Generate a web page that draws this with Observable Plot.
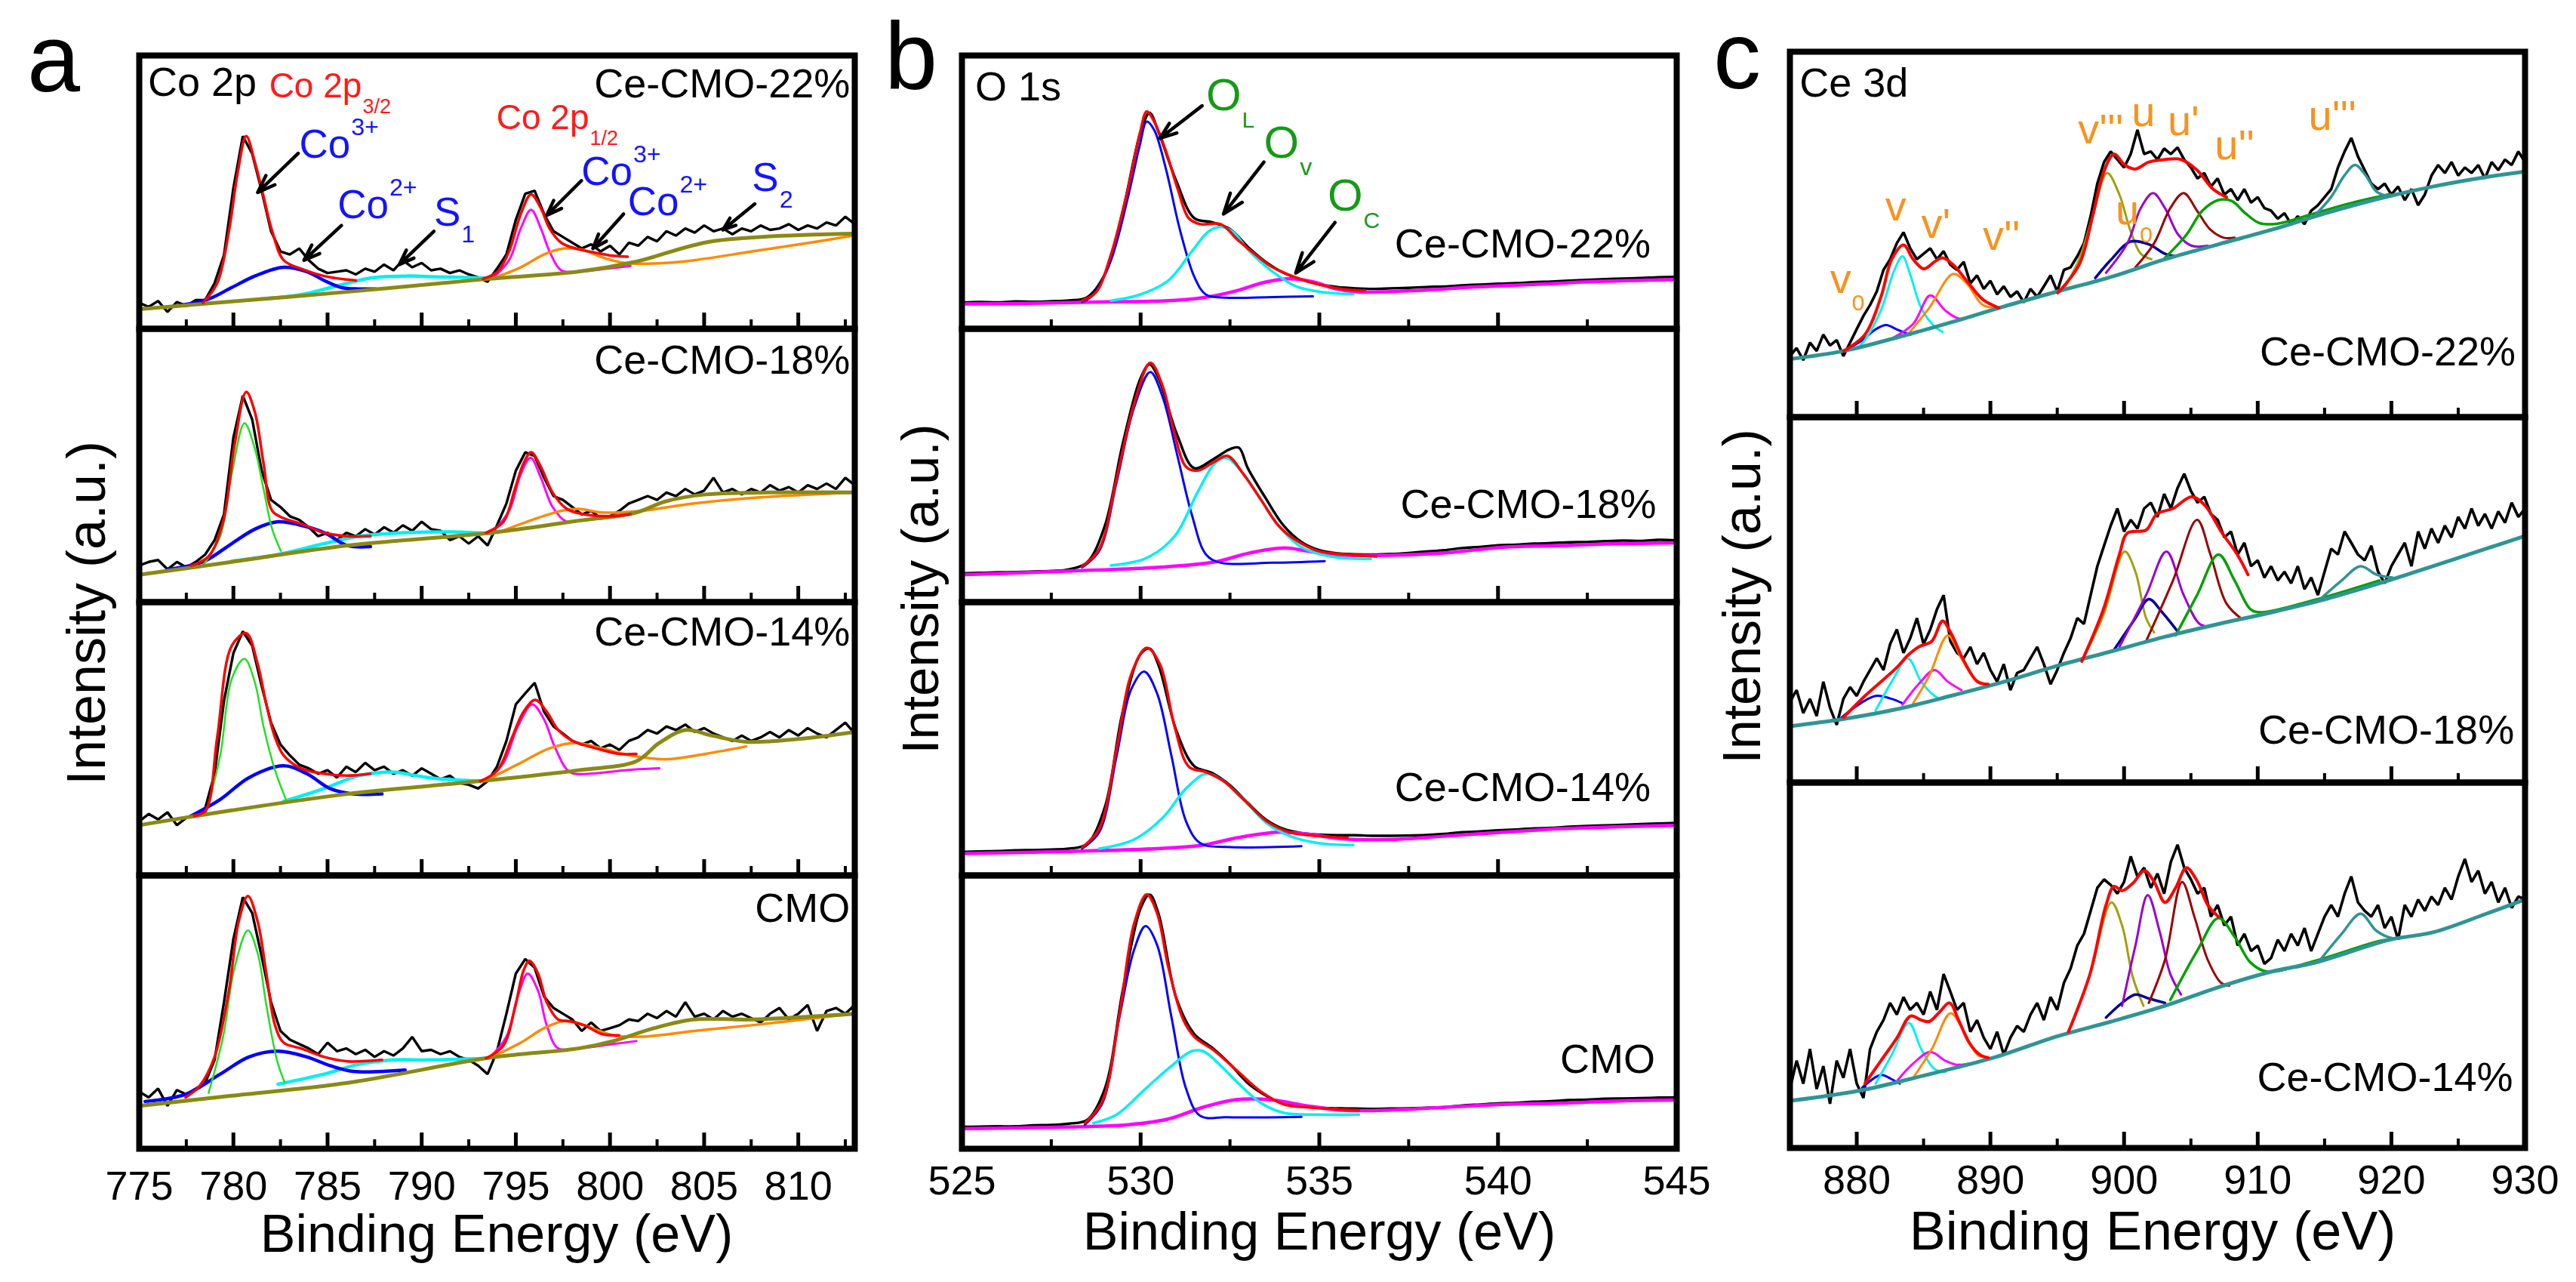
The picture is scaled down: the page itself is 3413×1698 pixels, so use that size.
<!DOCTYPE html>
<html><head><meta charset="utf-8">
<script src="https://cdn.jsdelivr.net/npm/d3@7"></script>
<script src="https://cdn.jsdelivr.net/npm/@observablehq/plot@0.6"></script>
<style>
html,body{margin:0;padding:0;background:#fff;width:3413px;height:1698px;overflow:hidden;}
#root{position:relative;width:3413px;height:1698px;overflow:hidden;background:#fff;}
</style></head><body><div id="root"></div>
<script>
// ---------- energy grids & ticks ----------
const eA = d3.range(775, 813.001, 0.5);
const eC = d3.range(875, 930.001, 0.5);
const ticksA_major = [780,785,790,795,800,805,810];
const ticksA_minor = [777.5,782.5,787.5,792.5,797.5,802.5,807.5,812.5];
const ticksA_labels = [775,780,785,790,795,800,805,810];
const ticksB_major = [530,535,540];
const ticksB_minor = [527.5,532.5,537.5,542.5];
const ticksB_labels = [525,530,535,540,545];
const ticksC_major = [880,890,900,910,920];
const ticksC_minor = [885,895,905,915,925];
const ticksC_labels = [880,890,900,910,920,930];
const samplesA = ["Ce-CMO-22%","Ce-CMO-18%","Ce-CMO-14%","CMO"];
const samplesC = ["Ce-CMO-22%","Ce-CMO-18%","Ce-CMO-14%"];

// ---------- panel a : Co 2p ----------
const a22_exp = [9.5,8.0,10.2,6.2,9.8,8.4,10.5,10.5,16.7,27.0,
51.5,70.5,64.0,50.5,35.7,28.3,27.2,29.4,25.1,22.0,
20.4,20.9,21.4,19.9,22.0,20.9,23.5,21.4,25.1,22.5,
24.1,21.4,22.0,20.4,21.4,19.9,18.8,17.2,22.0,27.2,
39.9,49.4,50.5,42.0,35.7,33.6,31.5,29.4,30.9,28.3,
30.4,27.2,31.5,30.4,33.6,32.0,35.7,34.1,36.7,35.2,
37.8,35.7,36.7,34.6,36.7,35.7,37.8,36.2,36.7,38.3,
36.2,37.8,36.7,38.9,37.8,41.0,38.3];
const a22_base = [[775,7.2],[778.7,9.3],[786.0,13.5],[793.4,18.2],[798.3,20.9],[801.4,24.6],[805.4,32.0],[813,34.8]];
const a22_fit1 = [[778.38,9.5],[779.14,16.7],[779.76,35.7],[780.22,56.8],[780.68,70.5],[781.14,61.0],[781.6,48.4],[782.06,35.7],[782.67,25.1],[783.59,22.0],[784.82,19.3],[786.05,18.0],[786.51,17.7]];
const a22_fit2 = [[793.26,18.3],[794.03,20.9],[794.64,28.3],[795.26,42.0],[795.81,49.2],[796.33,44.1],[796.79,36.7],[797.41,31.5],[798.33,29.1],[799.25,27.8],[800.17,26.7],[800.94,26.4]];
const a22_co2 = [[776.84,8.2],[778.68,10.9],[779.91,15.1],[781.14,19.3],[782.67,22.5],[783.9,20.9],[784.82,17.7],[785.74,15.1],[786.66,14.6],[787.58,14.6]];
const a22_s1 = [[781.45,10.9],[783.59,12.5],[785.44,15.6],[787.28,18.6],[789.12,19.3],[790.96,19.0],[793.42,18.6]];
const a22_co3b = [[793.72,18.3],[794.64,25.1],[795.26,36.7],[795.81,43.6],[796.33,36.7],[796.79,28.3],[797.41,21.4],[798.33,20.9],[799.86,22.0],[801.09,23.0]];
const a22_co2b = [[793.72,18.3],[795.26,22.5],[796.49,27.2],[797.56,29.4],[798.63,28.8],[799.56,26.2],[800.78,24.1],[802.32,23.9],[804.47,25.1],[807.54,28.3],[810.6,31.5],[812.91,34.1]];

const a18_exp = [13.4,14.7,15.4,12.0,14.7,12.7,14.7,17.4,22.7,32.1,
60.2,75.5,66.8,48.1,37.4,34.8,31.4,30.1,27.4,24.1,
25.4,22.7,25.4,24.1,26.7,24.7,27.4,25.4,28.1,26.1,
29.4,26.7,26.1,22.7,24.1,21.4,24.1,20.7,28.1,36.1,
48.1,54.8,53.5,45.5,38.8,37.4,34.8,32.1,33.4,30.7,
31.4,33.4,36.1,37.4,38.8,37.4,40.1,38.8,41.4,39.4,
40.8,45.5,40.1,41.4,39.4,41.4,40.1,42.8,40.8,42.1,
40.1,42.8,41.4,43.4,41.4,45.5,42.8];
const a18_base = [[775,10.0],[779.91,14.7],[786.05,20.7],[793.72,25.4],[798.33,29.8],[801.4,32.8],[802.93,36.8],[805.08,39.4],[813,40.1]];
const a18_fit1 = [[777.76,13.4],[778.68,16.7],[779.45,29.4],[780.06,57.5],[780.68,76.9],[781.14,69.5],[781.6,50.8],[782.06,33.4],[782.67,30.7],[783.59,28.7],[784.82,25.4],[786.05,24.1],[787.28,24.1]];
const a18_co3 = [[778.38,13.4],[779.3,24.1],[779.91,46.8],[780.59,65.5],[781.14,56.1],[781.6,41.4],[782.06,26.7],[782.52,18.7]];
const a18_co2 = [[776.53,12.0],[778.38,14.7],[779.91,21.4],[781.14,26.7],[782.37,29.4],[783.59,28.1],[784.82,25.4],[786.05,20.7],[787.28,20.3]];
const a18_s1 = [[779.91,15.0],[782.37,17.4],[784.82,21.4],[786.66,24.1],[789.12,25.4],[791.57,25.7],[793.72,25.1]];
const a18_fit2 = [[793.42,25.4],[794.34,29.4],[794.95,41.4],[795.41,50.8],[795.81,54.8],[796.33,49.5],[796.95,40.1],[797.71,34.1],[798.63,32.1],[799.86,31.4],[801.09,32.1]];
const a18_co3b = [[793.72,25.4],[794.64,33.4],[795.26,46.8],[795.78,52.8],[796.33,45.5],[796.95,34.8],[797.71,29.4],[798.63,30.1],[799.86,30.7],[801.09,32.1]];
const a18_co2b = [[794.03,25.4],[795.87,30.1],[797.41,33.4],[798.33,34.1],[799.56,32.8],[801.4,33.2],[804.47,36.1],[807.54,38.1],[812.91,40.1]];

const a14_exp = [19.8,22.5,20.5,23.1,18.4,21.1,22.5,24.5,37.2,63.9,
81.3,89.3,84.0,69.3,55.9,47.9,43.9,40.5,39.2,37.2,
38.5,35.8,39.8,37.8,41.2,38.5,39.8,37.2,38.5,36.5,
39.2,37.2,35.2,36.5,33.8,33.2,31.8,34.5,39.8,49.2,
62.6,66.6,70.5,59.9,54.5,51.9,49.2,47.9,49.2,46.5,
47.9,45.9,49.2,50.5,53.2,51.9,54.5,53.2,55.2,52.5,
53.9,51.9,50.5,49.2,51.2,49.2,50.5,52.5,50.5,53.2,
51.2,53.9,51.9,50.5,53.2,55.9,51.9];
const a14_base = [[775,18.4],[779.91,23.8],[786.05,29.8],[793.11,34.5],[798.33,38.5],[801.4,41.8],[802.62,48.5],[804.0,53.2],[805.39,51.2],[807.23,48.9],[809.99,49.9],[813,52.5]];
const a14_fit1 = [[777.92,21.8],[778.53,23.8],[779.14,50.5],[779.91,84.0],[780.68,88.6],[781.29,77.3],[781.75,62.6],[782.21,50.5],[782.67,43.9],[783.59,39.2],[784.82,37.2],[786.05,36.5],[787.28,37.2]];
const a14_co3 = [[778.53,22.5],[779.3,43.9],[779.91,71.9],[780.59,79.3],[781.14,70.6],[781.6,54.5],[782.21,38.5],[782.83,27.1]];
const a14_co2 = [[777.76,21.8],[779.3,27.8],[780.83,35.8],[782.67,40.1],[783.9,37.2],[785.13,31.8],[786.36,29.8],[787.89,29.8]];
const a14_s1 = [[782.67,27.1],[784.82,31.8],[786.66,36.5],[788.5,37.8],[790.35,35.8],[793.11,34.5]];
const a14_fit2 = [[793.11,34.5],[794.03,38.5],[794.8,50.5],[795.41,59.9],[796.03,64.2],[796.64,59.9],[797.25,53.2],[798.02,49.2],[799.25,46.5],[800.48,44.5],[801.4,44.5]];
const a14_co3b = [[793.42,34.8],[794.34,41.2],[795.1,54.5],[795.87,62.6],[796.49,57.2],[797.1,46.5],[797.87,37.8],[798.94,37.2],[800.78,38.5],[802.62,39.2]];
const a14_co2b = [[793.42,34.8],[795.26,41.2],[796.79,46.5],[798.17,48.5],[799.56,46.5],[801.09,43.9],[802.93,42.5],[805.08,44.5],[807.23,47.2]];

const aC_exp = [20.9,18.8,22.0,15.7,21.5,19.9,22.0,24.1,32.5,53.6,
76.7,92.0,86.2,70.4,53.6,43.1,39.9,38.3,36.7,34.6,
38.8,35.7,36.7,34.6,36.2,33.6,35.7,34.1,36.7,40.9,
35.7,36.2,34.6,35.7,33.6,32.5,30.4,27.3,35.7,49.4,
64.1,69.4,66.2,55.7,51.5,49.4,47.3,43.1,46.2,43.1,
44.1,45.2,47.3,46.7,49.4,47.8,50.4,48.3,53.6,48.3,
49.4,47.3,50.4,48.3,49.4,47.8,46.2,49.4,51.5,47.3,
49.4,52.6,43.1,50.4,51.5,49.4,52.6];
const aC_base = [[775,15.7],[779.91,19.4],[786.05,24.1],[793.72,33.4],[798.33,36.7],[800.17,39.4],[802.32,44.1],[804.47,47.3],[807.54,47.3],[813,49.4]];
const aC_fit1 = [[777.46,18.8],[778.22,23.1],[779.0,33.6],[779.76,57.8],[780.28,83.1],[780.77,92.5],[781.29,83.1],[781.75,64.1],[782.21,45.2],[782.67,38.8],[783.59,36.7],[784.82,33.6],[786.05,32.0],[787.89,32.5]];
const aC_co3 = [[778.68,20.4],[779.45,40.9],[780.06,66.2],[780.77,79.9],[781.29,71.5],[781.75,52.5],[782.31,32.5],[782.73,24.1]];
const aC_co2 = [[775.31,17.3],[777.46,19.9],[779.3,27.3],[780.83,33.6],[782.37,35.7],[783.9,33.6],[785.13,30.4],[786.36,28.3],[789.12,28.8]];
const aC_s1 = [[782.37,23.6],[784.82,27.3],[786.66,30.9],[788.5,32.5],[790.35,32.5],[793.42,33.1]];
const aC_fit2 = [[793.42,33.1],[794.34,37.8],[794.95,51.5],[795.41,65.2],[795.72,68.8],[796.18,64.1],[796.64,53.6],[797.25,47.3],[797.87,46.7],[798.63,45.2],[799.56,42.0],[800.48,41.5]];
const aC_co3b = [[793.57,33.1],[794.49,40.9],[795.1,55.7],[795.63,64.1],[796.18,57.8],[796.64,45.2],[797.25,36.7],[798.33,36.7],[800.17,38.3],[801.4,39.4]];
const aC_co2b = [[793.57,33.1],[795.26,38.8],[796.49,44.1],[797.56,46.7],[798.63,45.2],[800.17,41.5],[801.7,41.0],[804.47,43.1],[807.54,45.2],[812.91,49.4]];

// ---------- panel b : O 1s ----------
const b22_exp = [[525,9.6],[525.5,9.8],[526,9.7],[526.5,10.0],[527,9.9],[527.5,10.1],[528,10.4],[528.5,11.5],[529,20],[529.5,43],[530,72],[530.25,79],[530.5,72],[531,54],[531.5,40.5],[532,39],[532.5,36.5],[533,30],[533.5,24.5],[534,20.5],[534.5,18],[535,16.3],[535.5,15.3],[536,14.8],[536.5,14.6],[537,14.8],[537.5,15.0],[538,15.3],[538.5,15.5],[539,15.9],[539.5,16.2],[540,16.5],[540.5,16.7],[541,17.1],[541.5,17.3],[542,17.6],[542.5,17.9],[543,18.2],[543.5,18.4],[544,18.6],[544.5,18.9],[545,19.0]];
const b22_bg = [[525,9.1],[526.91,9.3],[528.84,9.8],[530.78,10.3],[531.75,11.4],[532.56,13.5],[533.53,17.2],[534.18,18.3],[534.82,17.2],[535.47,14.6],[536.11,13.5],[537.73,14.0],[539.35,15.3],[540.96,16.2],[542.58,17.2],[545,18.0]];
const b22_ol = [[528.36,9.8],[528.68,12.5],[529.17,25.1],[529.65,48.4],[529.98,67.4],[530.17,75.8],[530.38,72.7],[530.70,58.9],[531.11,35.7],[531.51,18.8],[531.83,12.5],[532.40,11.4],[533.69,11.6],[534.82,11.9]];
const b22_ov = [[529.17,10.3],[529.98,12.5],[530.78,17.7],[531.43,28.3],[531.91,35.7],[532.24,37.3],[532.56,35.7],[533.05,28.3],[533.69,20.9],[534.34,15.6],[535.15,13.3],[535.95,12.7]];
const b22_fit = [[528.36,10.3],[528.76,13.5],[529.17,27.2],[529.65,51.5],[529.98,71.6],[530.17,79.5],[530.38,75.8],[530.70,65.3],[531.03,51.5],[531.35,40.4],[531.67,38.3],[532.24,38.3],[532.72,32.5],[533.21,27.2],[533.69,22.5],[534.34,18.8],[534.98,16.2],[535.63,14.6],[536.28,14.0]];

const b18_exp = [[525,10.5],[525.5,10.7],[526,10.9],[526.5,11.0],[527,11.2],[527.5,11.4],[528,12.0],[528.5,14.5],[529,28],[529.5,58],[530,82],[530.25,87],[530.5,82],[531,62],[531.5,49],[532,52],[532.5,56],[532.75,56.5],[533,49],[533.5,38],[534,28],[534.5,22],[535,19],[535.5,17.8],[536,17.5],[536.5,17.4],[537,17.6],[537.5,18.0],[538,18.5],[538.5,19.0],[539,19.8],[539.5,20.2],[540,20.8],[540.5,21.0],[541,21.4],[541.5,21.6],[542,21.9],[542.5,22.0],[543,22.3],[543.5,22.5],[544,22.4],[544.5,22.8],[545,22.6]];
const b18_bg = [[525,10.0],[528.04,11.4],[530.46,12.7],[532.08,14.7],[533.05,18.0],[534.01,19.8],[534.66,18.7],[535.31,17.4],[536.92,17.1],[538.54,18.0],[540.15,20.1],[541.77,20.7],[543.38,21.4],[545,21.7]];
const b18_ol = [[528.36,12.7],[528.84,18.7],[529.33,44.1],[529.81,70.9],[530.27,84.2],[530.62,74.9],[531.03,53.5],[531.43,32.1],[531.83,17.4],[532.24,14.4],[533.69,14.4],[535.15,15.0]];
const b18_ov = [[529.17,13.4],[530.14,16.0],[530.95,24.1],[531.59,40.1],[532.08,50.8],[532.40,52.8],[532.80,48.1],[533.37,37.4],[533.85,28.1],[534.5,20.1],[535.31,16.7],[536.44,15.8]];
const b18_fit = [[528.36,13.1],[528.84,19.4],[529.33,45.5],[529.81,72.2],[530.27,87.6],[530.62,78.9],[530.95,61.5],[531.27,49.5],[531.59,48.1],[532.08,51.5],[532.43,53.5],[532.88,46.8],[533.37,37.4],[533.85,28.1],[534.34,22.7],[534.98,18.7],[535.79,17.4],[536.60,16.7]];

const b14_exp = [[525,8.6],[525.5,8.8],[526,8.9],[526.5,9.2],[527,9.3],[527.5,9.5],[528,9.8],[528.5,11.5],[529,25],[529.5,60],[530,81],[530.25,83],[530.5,77],[531,53],[531.5,40],[532,37.5],[532.5,33],[533,26.5],[533.5,20.5],[534,17],[534.5,15.5],[535,14.9],[535.5,14.7],[536,14.7],[536.5,14.5],[537,14.5],[537.5,14.6],[538,14.8],[538.5,15.2],[539,15.8],[539.5,16.1],[540,16.5],[540.5,16.8],[541,17.2],[541.5,17.4],[542,17.8],[542.5,18.1],[543,18.3],[543.5,18.5],[544,18.8],[544.5,19.0],[545,19.2]];
const b14_bg = [[525,8.0],[528.04,8.8],[530.46,9.8],[531.75,11.1],[532.72,13.8],[533.85,15.8],[534.66,15.1],[535.63,13.4],[536.92,13.1],[538.54,14.4],[540.15,15.8],[541.77,17.1],[543.38,17.8],[545,18.4]];
const b14_ol = [[528.36,9.8],[528.84,15.8],[529.33,43.9],[529.73,67.9],[530.10,74.6],[530.46,66.6],[530.86,43.9],[531.27,19.8],[531.67,11.8],[532.40,10.4],[534.5,10.7]];
const b14_ov = [[528.84,9.8],[529.81,13.1],[530.62,21.1],[531.27,31.8],[531.83,37.2],[532.24,35.2],[532.88,27.8],[533.53,19.1],[534.18,14.4],[534.98,11.8],[535.95,11.1]];
const b14_fit = [[528.36,10.2],[528.84,17.1],[529.33,46.5],[529.73,73.3],[530.17,83.3],[530.54,77.3],[530.95,54.5],[531.35,39.8],[531.83,37.8],[532.32,34.5],[532.88,27.8],[533.53,19.8],[534.18,15.8],[534.98,14.4],[535.79,13.8]];

const bC_exp = [[525,8.0],[525.5,8.1],[526,8.2],[526.5,8.2],[527,8.6],[527.5,8.7],[528,9.2],[528.5,10.5],[529,22],[529.5,58],[530,88],[530.25,93],[530.5,86],[531,55],[531.5,42],[532,37],[532.5,31],[533,24],[533.5,19.5],[534,16.5],[534.5,15.5],[535,15.0],[535.5,14.8],[536,14.7],[536.5,14.6],[537,14.7],[537.5,14.8],[538,15.0],[538.5,15.2],[539,15.8],[539.5,16.2],[540,16.6],[540.5,16.8],[541,17.2],[541.5,17.4],[542,17.8],[542.5,18.0],[543,18.3],[543.5,18.4],[544,18.5],[544.5,18.7],[545,18.8]];
const bC_bg = [[525,7.3],[527.23,7.8],[529.65,8.8],[530.78,10.9],[531.75,15.2],[532.72,18.0],[533.69,17.8],[534.66,15.7],[535.63,14.1],[536.92,14.1],[538.54,15.2],[540.15,16.2],[541.77,16.7],[543.38,17.5],[545,17.8]];
const bC_ol = [[528.44,8.8],[528.93,16.7],[529.41,48.3],[529.81,72.5],[530.14,81.5],[530.46,74.6],[530.86,48.3],[531.27,22.0],[531.67,12.0],[532.40,11.5],[534.5,11.7]];
const bC_ov = [[528.68,9.4],[529.33,12.5],[530.14,22.0],[530.78,29.4],[531.43,35.7],[531.75,35.7],[532.24,30.4],[532.72,24.1],[533.37,16.7],[534.01,13.1],[534.98,12.5],[536.11,12.5]];
const bC_fit = [[528.44,9.4],[528.93,17.5],[529.41,49.4],[529.81,82.0],[530.17,93.1],[530.46,86.2],[530.78,66.2],[531.19,47.3],[531.51,40.9],[532.08,35.7],[532.72,28.3],[533.37,20.9],[534.01,16.2],[534.66,15.2],[535.31,14.6],[536.11,14.1]];

// ---------- panel c : Ce 3d ----------
const c22_exp = [16.7,18.9,15.6,20.4,18.1,22.6,19.6,21.1,16.7,20.4,
24.1,27.7,30.7,34.4,40.3,43.2,47.6,50.6,46.2,43.2,
44.7,46.2,43.2,45.4,41.7,40.3,42.5,36.6,38.8,35.1,
37.3,33.6,35.8,32.9,34.4,31.4,35.1,32.9,35.8,38.8,
34.4,40.3,41.0,44.0,47.6,55.0,63.9,69.8,72.7,70.5,
68.3,72.0,78.6,72.0,72.7,70.5,73.5,72.0,73.8,70.5,
68.3,65.3,66.8,63.1,65.3,60.9,62.4,59.4,62.4,58.7,
60.2,57.2,56.5,54.3,55.8,52.8,55.0,52.8,56.5,58.0,
60.2,62.4,68.3,72.7,76.4,71.3,67.6,63.9,62.4,63.9,
60.9,63.1,59.4,62.4,58.0,60.9,66.1,69.0,66.8,69.8,
66.1,68.3,66.8,69.0,65.3,69.8,67.6,70.5,69.0,72.7,
69.8];
const c22_base = [[875,15.9],[879.01,18.1],[883.02,21.8],[887.02,25.9],[891.03,30.3],[895.04,34.4],[899.05,38.4],[903.06,43.2],[907.06,47.3],[911.07,51.3],[915.08,55.8],[919.09,59.8],[923.1,63.1],[927.1,65.7],[930,67.2]];
const c22_fit1 = [[879.01,18.1],[880.61,22.6],[881.81,32.9],[882.62,43.2],[883.5,47.1],[884.22,43.2],[885.02,40.6],[885.82,42.5],[886.42,43.6],[887.22,41.7],[888.23,37.3],[889.43,32.2],[890.63,29.9]];
const c22_fit2 = [[895.04,34.0],[896.64,41.7],[897.65,55.0],[898.45,66.8],[899.25,72.0],[900.05,69.0],[900.85,67.9],[901.85,69.8],[903.06,70.5],[904.26,70.5],[905.46,67.6],[906.66,62.4],[907.67,60.2]];
const c22_v0 = [[879.4,18.8],[880.4,21.0],[881.4,24.0],[882.2,25.2],[883.0,24.0],[884.0,22.5]];
const c22_v = [[880.2,19.4],[880.61,21.1],[881.81,29.2],[882.82,40.3],[883.42,44.0],[884.02,38.8],[884.82,29.9],[885.82,24.8],[886.42,23.3]];
const c22_v1 = [[882.62,21.5],[884.22,25.5],[885.5,33.3],[886.62,29.2],[887.62,27.0],[888.43,27.4]];
const c22_v2 = [[883.82,22.6],[885.42,29.9],[887.22,39.2],[888.23,36.6],[889.43,30.7],[890.63,29.9]];
const c22_v3 = [[895.44,34.7],[896.64,43.2],[897.65,55.0],[898.73,66.8],[899.65,60.9],[900.45,51.3],[901.25,44.7],[902.05,43.2]];
const c22_u0 = [[897.85,38.1],[899.05,43.2],[900.45,48.0],[901.85,47.3],[903.06,44.7],[903.86,44.0]];
const c22_u = [[898.65,39.5],[900.25,47.6],[901.25,57.2],[902.17,61.3],[903.06,57.2],[904.06,49.9],[905.06,46.9],[906.26,46.9]];
const c22_u1 = [[900.85,41.0],[902.25,47.6],[903.46,57.2],[904.46,61.3],[905.46,56.5],[906.46,51.3],[907.46,49.1],[908.27,49.1]];
const c22_u2 = [[903.06,43.6],[904.66,49.9],[905.86,56.5],[907.06,59.4],[908.07,59.1],[909.07,55.8],[910.07,53.2],[911.07,52.8],[911.87,53.2],[914.28,55.8],[917.0,58.6],[919.89,61.0]];
const c22_u3 = [[914.28,55.2],[915.48,60.2],[916.48,66.1],[917.28,69.0],[918.09,66.1],[918.89,61.7],[919.89,60.4]];

const c18_exp = [22.1,25.3,19.0,22.9,18.2,27.6,20.5,15.8,22.9,26.1,
23.7,27.6,30.8,34.0,30.8,37.9,41.9,35.5,39.5,45.0,
37.9,41.9,47.4,51.3,38.7,35.5,34.0,37.1,32.4,35.5,
30.8,27.6,32.4,25.3,30.0,30.8,34.0,37.1,32.4,26.9,
30.8,35.5,39.5,45.0,43.4,51.3,59.2,64.8,70.3,75.0,
68.7,71.9,69.5,75.0,76.6,72.7,79.0,75.0,80.6,84.5,
79.8,76.6,78.2,73.5,71.9,67.1,68.7,62.4,65.6,59.2,
60.8,56.1,59.2,55.3,57.7,54.5,59.2,52.9,56.1,51.3,
57.7,64.0,62.4,68.7,65.6,62.4,60.8,64.8,57.7,54.5,
59.2,62.4,65.6,59.2,68.7,64.0,69.5,65.6,70.3,67.1,
72.7,69.5,75.0,70.3,73.5,69.5,74.2,71.1,76.6,72.7,
75.0];
const c18_base = [[875,15.4],[879.01,17.4],[883.02,20.1],[887.02,23.7],[891.03,27.6],[895.04,32.0],[899.05,35.9],[903.06,39.9],[907.06,43.4],[911.07,46.6],[915.08,50.2],[919.09,54.5],[923.1,59.2],[927.1,64.0],[930,67.5]];
const c18_fit1 = [[879.01,17.8],[880.61,23.7],[881.81,27.6],[883.02,31.6],[883.82,34.8],[884.62,37.1],[885.62,38.7],[886.42,44.2],[887.02,41.1],[888.03,33.2],[889.03,27.6],[889.83,26.9]];
const c18_fit2 = [[896.84,33.2],[898.45,47.4],[899.65,62.4],[900.25,68.3],[901.65,69.1],[902.45,73.5],[903.66,75.0],[905.06,78.2],[906.06,75.8],[907.26,68.7],[908.47,62.4],[909.27,56.9]];
const c18_v0 = [[878.61,17.0],[879.81,20.5],[881.41,23.7],[882.62,22.9],[883.42,21.7]];
const c18_v = [[881.41,19.7],[882.62,27.6],[883.82,34.0],[884.82,27.6],[885.82,23.7],[886.22,22.9]];
const c18_v1 = [[883.42,21.3],[884.62,26.9],[885.82,30.8],[886.82,27.6],[887.83,25.3]];
const c18_v2 = [[884.22,21.7],[885.42,29.2],[886.82,40.3],[887.83,34.0],[888.83,28.4],[889.63,26.9]];
const c18_v3 = [[896.84,33.2],[898.45,45.8],[900.05,63.2],[900.85,57.7],[901.65,45.0],[902.25,41.1]];
const c18_u0 = [[899.25,36.3],[900.85,45.0],[901.85,50.2],[902.85,46.6],[904.06,41.1]];
const c18_u = [[899.65,37.1],[901.65,51.3],[903.17,63.2],[904.46,51.3],[905.66,43.4],[906.46,42.7]];
const c18_u1 = [[901.65,38.7],[903.66,55.3],[905.46,71.9],[906.46,62.4],[907.66,49.0],[908.87,44.6]];
const c18_u2 = [[903.86,40.3],[905.46,51.3],[907.06,62.4],[908.27,55.3],[909.47,47.4],[910.27,46.6],[914.28,50.0],[919.09,55.3]];
const c18_u3 = [[914.68,50.2],[916.28,55.3],[917.69,59.2],[918.89,56.9],[920.09,56.1]];

const c14_exp = [16.1,23.9,17.6,27.1,16.1,22.4,12.1,23.9,19.2,27.1,
17.6,13.7,27.1,31.8,35.0,39.7,36.5,41.3,37.8,39.7,
36.5,42.8,37.8,47.6,42.8,37.8,39.7,31.8,35.0,30.2,
27.1,31.8,25.5,30.2,33.4,31.8,36.5,39.7,35.0,41.3,
37.8,45.2,49.1,55.4,58.6,64.9,71.2,73.5,72.0,69.6,
72.8,79.8,74.3,76.7,71.2,75.1,69.6,78.3,83.0,76.7,
73.5,69.6,71.2,63.3,66.5,60.9,63.3,55.4,58.6,53.9,
55.4,50.4,52.0,57.0,53.9,58.6,55.4,60.2,53.9,58.6,
63.3,66.5,63.3,69.6,74.3,67.2,64.9,63.3,66.5,60.2,
63.3,57.0,66.5,63.3,68.0,64.9,68.8,66.5,71.2,68.0,
74.3,79.1,72.8,75.9,69.6,72.8,67.2,71.2,65.7,68.8,
68.0];
const c14_base = [[875,12.9],[880.21,15.7],[885,19.8],[890.23,24.7],[895.04,30.6],[899.05,34.6],[903.06,38.9],[907.06,44.0],[911.07,48.3],[914.28,50.7],[919.89,57.0],[923.1,59.0],[927.1,64.1],[930,68.0]];
const c14_fit1 = [[880.61,17.6],[881.81,23.9],[883.02,30.2],[884.02,36.1],[884.82,35.0],[885.42,34.6],[886.22,37.3],[886.94,39.7],[887.62,35.0],[888.43,28.7],[889.23,25.5],[889.83,24.7]];
const c14_fit2 = [[895.84,31.8],[897.45,47.6],[898.65,66.5],[899.25,71.6],[899.85,70.4],[900.65,72.4],[901.53,75.9],[902.25,72.8],[903.06,67.2],[903.86,71.2],[904.66,76.7],[905.46,73.1],[906.26,66.5],[907.06,63.3]];
const c14_v0 = [[880.4,16.5],[881.81,20.0],[882.62,18.8],[883.22,17.6]];
const c14_v = [[881.41,17.6],[882.62,25.5],[883.9,34.2],[884.82,27.1],[885.82,21.6],[886.62,20.8]];
const c14_v1 = [[883.02,18.4],[884.22,23.1],[885.5,26.3],[886.62,23.9],[887.42,22.8],[888.43,23.1]];
const c14_v2 = [[884.22,19.2],[885.62,27.1],[887.02,36.9],[888.03,31.8],[889.03,25.5],[889.83,24.7]];
const c14_v3 = [[895.84,31.8],[897.45,47.6],[899.05,67.2],[899.85,60.9],[900.65,46.8],[901.45,38.9]];
const c14_u0 = [[898.65,35.7],[899.85,39.7],[900.85,42.0],[901.85,40.9],[903.06,39.7]];
const c14_u = [[899.85,38.9],[900.85,55.4],[901.77,69.2],[902.65,59.4],[903.46,47.6],[904.26,42.0]];
const c14_u1 = [[901.85,39.7],[903.06,51.5],[904.34,72.8],[905.26,63.3],[906.26,51.5],[907.26,45.2],[907.87,44.4]];
const c14_u2 = [[903.46,40.5],[905.46,53.9],[907.06,62.9],[908.27,57.8],[909.47,50.7],[910.67,48.3],[914.28,51.2],[919.09,56.6],[920.69,57.5]];
const c14_u3 = [[914.68,51.5],[916.28,58.6],[917.69,64.1],[918.89,59.4],[920.09,57.4],[921.09,57.8]];

// ---------- annotations (data coordinates: eV, % of sub-panel height) ----------
const BLUE="#1414ff", RED="#ff1a1a", GREENL="#169a16", ORANGE="#f7931e";
const textA1 = [
 {x:775.46,y:85.3,t:"Co 2p",c:"#000",size:54},
 {x:781.9,y:84.8,t:"Co 2p",c:RED,size:46,s:"3/2",s2:27,d2:21},
 {x:812.75,y:84.8,t:samplesA[0],c:"#000",size:54,end:true},
 {x:793.97,y:73.2,t:"Co 2p",c:RED,size:46,s:"1/2",s2:27,d2:21},
 {x:783.5,y:62.6,t:"Co",c:BLUE,size:53,s:"3+",s2:32,d2:-30},
 {x:785.53,y:40.4,t:"Co",c:BLUE,size:53,s:"2+",s2:32,d2:-30},
 {x:790.65,y:37.8,t:"S",c:BLUE,size:53,s:"1",s2:32,d2:22},
 {x:798.48,y:52.6,t:"Co",c:BLUE,size:53,s:"3+",s2:32,d2:-30},
 {x:800.94,y:41.5,t:"Co",c:BLUE,size:53,s:"2+",s2:32,d2:-30},
 {x:807.54,y:50.5,t:"S",c:BLUE,size:53,s:"2",s2:32,d2:22}
];
const arrowsA1 = [
 {x1:783.44,y1:64.2,x2:781.29,y2:49.9},
 {x1:785.74,y1:37.8,x2:783.75,y2:25.1},
 {x1:790.65,y1:35.7,x2:788.81,y2:23.5},
 {x1:798.48,y1:54.2,x2:796.64,y2:41.5},
 {x1:800.72,y1:42.0,x2:799.09,y2:29.4},
 {x1:807.69,y1:45.7,x2:806.0,y2:36.2}
];
const textA2 = [{x:812.75,y:83.6,t:samplesA[1],c:"#000",size:54,end:true}];
const textA3 = [{x:812.75,y:84.0,t:samplesA[2],c:"#000",size:54,end:true}];
const textA4 = [{x:812.75,y:83.1,t:samplesA[3],c:"#000",size:54,end:true}];

const textB1 = [
 {x:525.37,y:83.7,t:"O 1s",c:"#000",size:54},
 {x:531.83,y:80.0,t:"O",c:GREENL,size:60,s:"L",s2:30,d2:23},
 {x:533.45,y:62.6,t:"O",c:GREENL,size:60,s:"v",s2:32,d2:23},
 {x:535.23,y:43.1,t:"O",c:GREENL,size:60,s:"C",s2:30,d2:23},
 {x:544.27,y:26.2,t:samplesA[0],c:"#000",size:54,end:true}
];
const arrowsB1 = [
 {x1:531.72,y1:81.6,x2:530.54,y2:69.7},
 {x1:533.45,y1:61.0,x2:532.32,y2:42.0},
 {x1:535.44,y1:38.9,x2:534.34,y2:20.4}
];
const textB2 = [{x:544.43,y:30.7,t:samplesA[1],c:"#000",size:54,end:true}];
const textB3 = [{x:544.27,y:27.1,t:samplesA[2],c:"#000",size:54,end:true}];
const textB4 = [{x:544.4,y:27.8,t:samplesA[3],c:"#000",size:54,end:true}];

const textC1 = [
 {x:875.72,y:87.8,t:"Ce 3d",c:"#000",size:54},
 {x:878.0,y:34.0,t:"v",c:ORANGE,size:56,s:"0",s2:30,d2:23},
 {x:882.13,y:53.9,t:"v",c:ORANGE,size:56},
 {x:884.82,y:49.1,t:"v'",c:ORANGE,size:56},
 {x:889.43,y:45.8,t:"v''",c:ORANGE,size:56},
 {x:896.56,y:74.9,t:"v'''",c:ORANGE,size:56},
 {x:900.57,y:79.7,t:"u",c:ORANGE,size:56},
 {x:899.37,y:52.8,t:"u",c:ORANGE,size:56,s:"0",s2:30,d2:24},
 {x:903.26,y:77.1,t:"u'",c:ORANGE,size:56},
 {x:906.78,y:70.5,t:"u''",c:ORANGE,size:56},
 {x:913.8,y:78.6,t:"u'''",c:ORANGE,size:56},
 {x:929.3,y:14.1,t:samplesC[0],c:"#000",size:54,end:true}
];
const textC2 = [{x:929.19,y:10.7,t:samplesC[1],c:"#000",size:54,end:true}];
const textC3 = [{x:929.1,y:15.7,t:samplesC[2],c:"#000",size:54,end:true}];

// ---------- styling ----------
const FONT = '"Liberation Sans", Arial, Helvetica, sans-serif';
const K = {red:"#ff0000", blue:"#0000ff", green:"#22e022", cyan:"#00f0f0", magenta:"#ff00ff", orange:"#ff8a00",
  olive:"#8a8a14", teal:"#2f9494", navy:"#000099", purple:"#9900cc", brown:"#990000", dgreen:"#00a000", olive2:"#a0a010"};

const panels = [
 {domain:[775,813], left:184, width:948, top:73, pitch:362, grid:eA, major:ticksA_major, minor:ticksA_minor, labels:ticksA_labels, pad:29, expW:3.4, expCurve:"linear",
  subs:[
   {exp:a22_exp, curves:[[a22_s1,K.cyan,4.5],[a22_co2,K.blue,4.5],[a22_co3b,K.magenta,3],[a22_co2b,K.orange,3.5],[a22_base,K.olive,5],[a22_fit1,K.red,3.5],[a22_fit2,K.red,3.5]], texts:textA1, arrows:arrowsA1},
   {exp:a18_exp, curves:[[a18_s1,K.cyan,4.5],[a18_co2,K.blue,4.5],[a18_co3,K.green,2.5],[a18_co3b,K.magenta,3],[a18_co2b,K.orange,3.5],[a18_base,K.olive,5],[a18_fit1,K.red,3.5],[a18_fit2,K.red,3.5]], texts:textA2},
   {exp:a14_exp, curves:[[a14_s1,K.cyan,4.5],[a14_co2,K.blue,4.5],[a14_co3,K.green,2.5],[a14_co3b,K.magenta,3],[a14_co2b,K.orange,3.5],[a14_base,K.olive,5],[a14_fit1,K.red,3.5],[a14_fit2,K.red,3.5]], texts:textA3},
   {exp:aC_exp, curves:[[aC_s1,K.cyan,4.5],[aC_co2,K.blue,4.5],[aC_co3,K.green,2.5],[aC_co3b,K.magenta,3],[aC_co2b,K.orange,3.5],[aC_base,K.olive,5],[aC_fit1,K.red,3.5],[aC_fit2,K.red,3.5]], texts:textA4}
  ]},
 {domain:[525,545], left:1274, width:947, top:73, pitch:362, grid:null, major:ticksB_major, minor:ticksB_minor, labels:ticksB_labels, pad:22, expW:3.4, expCurve:"catmull-rom",
  subs:[
   {exp:b22_exp, curves:[[b22_bg,K.magenta,4.5],[b22_ol,K.blue,3],[b22_ov,K.cyan,3.5],[b22_fit,K.red,3.5]], texts:textB1, arrows:arrowsB1},
   {exp:b18_exp, curves:[[b18_bg,K.magenta,4.5],[b18_ol,K.blue,3],[b18_ov,K.cyan,3.5],[b18_fit,K.red,3.5]], texts:textB2},
   {exp:b14_exp, curves:[[b14_bg,K.magenta,4.5],[b14_ol,K.blue,3],[b14_ov,K.cyan,3.5],[b14_fit,K.red,3.5]], texts:textB3},
   {exp:bC_exp, curves:[[bC_bg,K.magenta,4.5],[bC_ol,K.blue,3],[bC_ov,K.cyan,3.5],[bC_fit,K.red,3.5]], texts:textB4}
  ]},
 {domain:[875,930], left:2371, width:974, top:68, pitch:484, grid:eC, major:ticksC_major, minor:ticksC_minor, labels:ticksC_labels, pad:22, expW:3.6, expCurve:"linear",
  subs:[
   {exp:c22_exp, curves:[[c22_v0,K.blue,3],[c22_v,K.cyan,3],[c22_v1,K.magenta,3],[c22_v2,K.orange,3],[c22_v3,K.olive2,3],[c22_u0,K.navy,3.5],[c22_u,K.purple,3],[c22_u1,K.brown,3],[c22_u2,K.dgreen,3.5],[c22_u3,K.teal,3.5],[c22_base,K.teal,5],[c22_fit1,K.red,4],[c22_fit2,K.red,4]], texts:textC1},
   {exp:c18_exp, curves:[[c18_v0,K.blue,3],[c18_v,K.cyan,3],[c18_v1,K.magenta,3],[c18_v2,K.orange,3],[c18_v3,K.olive2,3],[c18_u0,K.navy,3.5],[c18_u,K.purple,3],[c18_u1,K.brown,3],[c18_u2,K.dgreen,3.5],[c18_u3,K.teal,3.5],[c18_base,K.teal,5],[c18_fit1,K.red,4],[c18_fit2,K.red,4]], texts:textC2},
   {exp:c14_exp, curves:[[c14_v0,K.blue,3],[c14_v,K.cyan,3],[c14_v1,K.magenta,3],[c14_v2,K.orange,3],[c14_v3,K.olive2,3],[c14_u0,K.navy,3.5],[c14_u,K.purple,3],[c14_u1,K.brown,3],[c14_u2,K.dgreen,3.5],[c14_u3,K.teal,3.5],[c14_base,K.teal,5],[c14_fit1,K.red,4],[c14_fit2,K.red,4]], texts:textC3}
  ]}
];

const root = document.getElementById("root");
const ctx = document.createElement("canvas").getContext("2d");
function measure(t, size){ ctx.font = size + 'px "Liberation Sans", Arial, sans-serif'; return ctx.measureText(t).width; }

function textMarks(list){
  const m = [];
  for (const L of list) {
    m.push(Plot.text([L], {x:"x", y:"y", text:"t", fill:L.c, fontSize:L.size, fontFamily:FONT,
      textAnchor: L.end ? "end" : "start", lineAnchor:"bottom"}));
    if (L.s) {
      m.push(Plot.text([L], {x:"x", y:"y", text:"s", fill:L.c, fontSize:L.s2, fontFamily:FONT,
        textAnchor:"start", lineAnchor:"bottom", dx: measure(L.t, L.size) + 1, dy: L.d2}));
    }
  }
  return m;
}

for (const P of panels) {
  P.subs.forEach((S, k) => {
    const last = k === P.subs.length - 1;
    const extra = last ? 110 : 0;
    const marks = [];
    if (P.grid) marks.push(Plot.line(S.exp, {x:(d,i)=>P.grid[i], y:d=>d, stroke:"#000", strokeWidth:P.expW, curve:P.expCurve, strokeLinejoin:"miter"}));
    else marks.push(Plot.line(S.exp, {x:d=>d[0], y:d=>d[1], stroke:"#000", strokeWidth:P.expW, curve:P.expCurve}));
    for (const [d, col, w] of S.curves) marks.push(Plot.line(d, {x:p=>p[0], y:p=>p[1], stroke:col, strokeWidth:w, curve:"catmull-rom"}));
    if (S.arrows) marks.push(Plot.arrow(S.arrows, {x1:"x1", y1:"y1", x2:"x2", y2:"y2", stroke:"#000", strokeWidth:4.5, headLength:22, headAngle:40}));
    marks.push(...textMarks(S.texts || []));
    marks.push(Plot.frame({stroke:"#000", strokeWidth:8}));
    marks.push(Plot.tickX(P.major, {x:d=>d, stroke:"#000", strokeWidth:5, insetTop:P.pitch - 21}));
    marks.push(Plot.tickX(P.minor, {x:d=>d, stroke:"#000", strokeWidth:4, insetTop:P.pitch - 12}));
    if (last) marks.push(Plot.axisX({ticks:P.labels, tickSize:0, tickPadding:P.pad, fontSize:54, label:null, tickFormat:d=>String(d)}));
    const svg = Plot.plot({
      width: P.width + 8, height: P.pitch + 8 + extra,
      marginLeft:4, marginRight:4, marginTop:4, marginBottom:4 + extra,
      x: last ? {domain:P.domain} : {domain:P.domain, axis:null},
      y: {domain:[0,100], axis:null},
      style: {background:"transparent", fontFamily:FONT, fontSize:"54px", color:"#000", overflow:"visible"},
      marks
    });
    svg.style.position = "absolute";
    svg.style.left = (P.left - 4) + "px";
    svg.style.top = (P.top - 4 + k * P.pitch) + "px";
    svg.style.maxWidth = "none";
    root.appendChild(svg);
  });
}

// ---------- panel letters and axis titles ----------
const NS = "http://www.w3.org/2000/svg";
const ov = document.createElementNS(NS, "svg");
ov.setAttribute("width", 3413); ov.setAttribute("height", 1698);
ov.style.position = "absolute"; ov.style.left = "0px"; ov.style.top = "0px";
ov.style.fontFamily = FONT;
function addText(t, x, y, size, opts = {}) {
  const e = document.createElementNS(NS, "text");
  e.textContent = t;
  e.setAttribute("x", x); e.setAttribute("y", y);
  e.setAttribute("font-size", size);
  e.setAttribute("fill", "#000");
  if (opts.anchor) e.setAttribute("text-anchor", opts.anchor);
  if (opts.rotate) { e.setAttribute("x", 0); e.setAttribute("y", 0); e.setAttribute("transform", `translate(${x},${y}) rotate(-90)`); }
  ov.appendChild(e);
}
addText("a", 36, 121, 126);
addText("b", 1172, 118, 126);
addText("c", 2270, 117, 126);
addText("Intensity (a.u.)", 139, 812, 72, {anchor:"middle", rotate:true});
addText("Intensity (a.u.)", 1243, 780, 69, {anchor:"middle", rotate:true});
addText("Intensity (a.u.)", 2332, 790, 70, {anchor:"middle", rotate:true});
addText("Binding Energy (eV)", 658, 1658, 70, {anchor:"middle"});
addText("Binding Energy (eV)", 1748, 1655, 70, {anchor:"middle"});
addText("Binding Energy (eV)", 2852, 1655, 72, {anchor:"middle"});
root.appendChild(ov);
</script></body></html>
